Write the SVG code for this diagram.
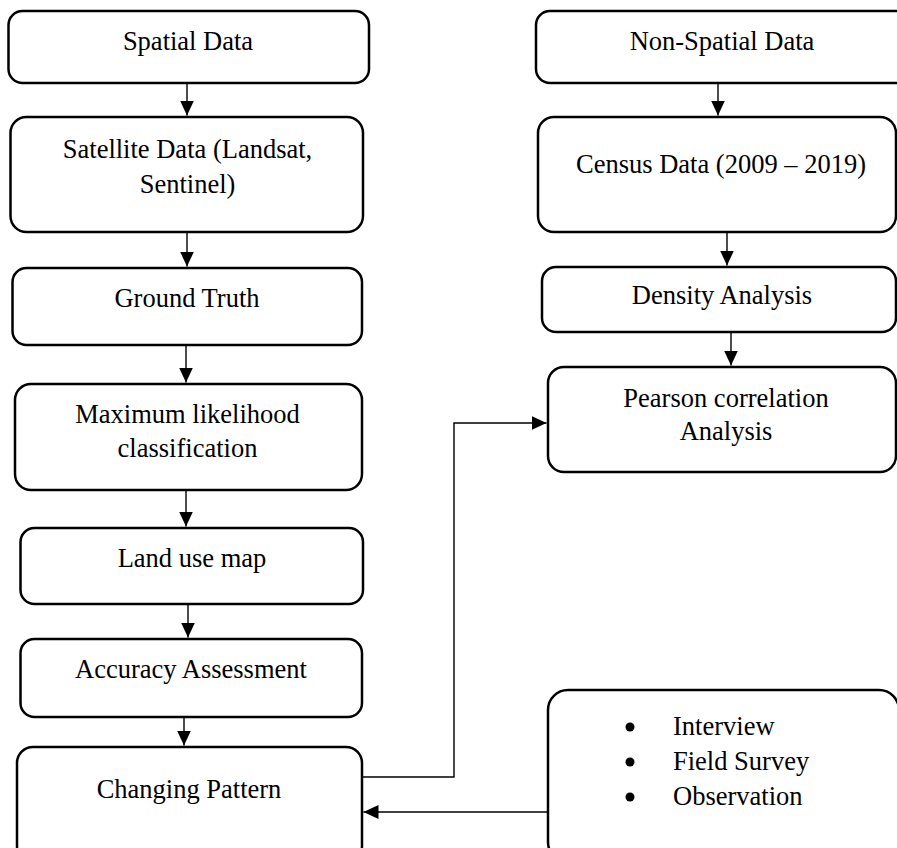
<svg xmlns="http://www.w3.org/2000/svg" width="897" height="848" viewBox="0 0 897 848">
<style>
.box{fill:#fff;stroke:#000;stroke-width:2.5}
.t{font-family:"Liberation Serif","Times New Roman",serif;font-size:26.5px;fill:#000;text-anchor:middle}
.tl{font-family:"Liberation Serif","Times New Roman",serif;font-size:26.5px;fill:#000}
.c{fill:none;stroke:#000;stroke-width:1.4}
</style>
<defs>
<marker id="ah" markerUnits="userSpaceOnUse" markerWidth="16" markerHeight="16" viewBox="0 0 16 14" refX="15" refY="7" orient="auto">
<path d="M0,0 L15,7 L0,14 Z" fill="#000"/>
</marker>
</defs>
<rect width="897" height="848" fill="#fff"/>
<g id="connectors">
<line class="c" x1="187" y1="83" x2="187" y2="115.5" marker-end="url(#ah)"/>
<line class="c" x1="187" y1="232" x2="187" y2="266.5" marker-end="url(#ah)"/>
<line class="c" x1="186" y1="345" x2="186" y2="382.5" marker-end="url(#ah)"/>
<line class="c" x1="186" y1="490" x2="186" y2="526.5" marker-end="url(#ah)"/>
<line class="c" x1="188" y1="604" x2="188" y2="637.5" marker-end="url(#ah)"/>
<line class="c" x1="184" y1="717" x2="184" y2="745.5" marker-end="url(#ah)"/>
<line class="c" x1="718" y1="83" x2="718" y2="115.5" marker-end="url(#ah)"/>
<line class="c" x1="727" y1="232" x2="727" y2="265.5" marker-end="url(#ah)"/>
<line class="c" x1="731" y1="332" x2="731" y2="365.5" marker-end="url(#ah)"/>
<polyline class="c" points="362,777 454,777 454,423 546.5,423" marker-end="url(#ah)"/>
<line class="c" x1="548" y1="812" x2="363.5" y2="812" marker-end="url(#ah)"/>
</g>
<g id="spatial">
<rect class="box" x="8.5" y="11" width="360.5" height="72" rx="14"/>
<text class="t" x="188" y="50">Spatial Data</text>
</g>
<g id="satellite">
<rect class="box" x="10.5" y="117" width="352.5" height="115" rx="16"/>
<text class="t" x="187.5" y="158">Satellite Data (Landsat,</text>
<text class="t" x="187.5" y="193">Sentinel)</text>
</g>
<g id="ground">
<rect class="box" x="12.5" y="268" width="349.5" height="77" rx="14"/>
<text class="t" x="187" y="307">Ground Truth</text>
</g>
<g id="mlc">
<rect class="box" x="15" y="384" width="347" height="106" rx="16"/>
<text class="t" x="187.5" y="423">Maximum likelihood</text>
<text class="t" x="187.5" y="457">classification</text>
</g>
<g id="landuse">
<rect class="box" x="20.5" y="528" width="342.5" height="76" rx="14"/>
<text class="t" x="192" y="567">Land use map</text>
</g>
<g id="accuracy">
<rect class="box" x="20.5" y="639" width="341.5" height="78" rx="14"/>
<text class="t" x="191" y="678">Accuracy Assessment</text>
</g>
<g id="changing">
<rect class="box" x="17" y="747" width="345" height="115" rx="16"/>
<text class="t" x="189" y="798">Changing Pattern</text>
</g>
<g id="nonspatial">
<rect class="box" x="536" y="11" width="376" height="72" rx="14"/>
<text class="t" x="722" y="50">Non-Spatial Data</text>
</g>
<g id="census">
<rect class="box" x="538" y="117" width="358" height="115" rx="16"/>
<text class="t" x="721" y="173">Census Data (2009 – 2019)</text>
</g>
<g id="density">
<rect class="box" x="542" y="267" width="354" height="65" rx="14"/>
<text class="t" x="722" y="304">Density Analysis</text>
</g>
<g id="pearson">
<rect class="box" x="548" y="367" width="348" height="105" rx="16"/>
<text class="t" x="726" y="407">Pearson correlation</text>
<text class="t" x="726" y="440">Analysis</text>
</g>
<g id="fieldwork">
<rect class="box" x="548" y="690" width="351" height="172" rx="20"/>
<circle cx="630" cy="727" r="4.5" fill="#000"/>
<circle cx="630" cy="762" r="4.5" fill="#000"/>
<circle cx="630" cy="797" r="4.5" fill="#000"/>
<text class="tl" x="673" y="735">Interview</text>
<text class="tl" x="673" y="770">Field Survey</text>
<text class="tl" x="673" y="805">Observation</text>
</g>
</svg>
